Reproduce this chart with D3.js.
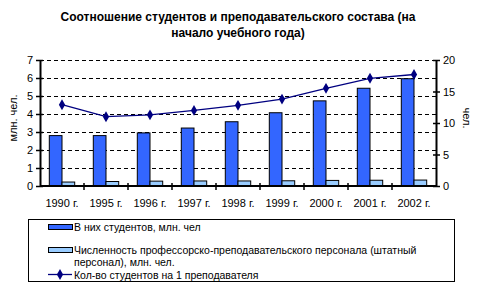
<!DOCTYPE html>
<html>
<head>
<meta charset="utf-8">
<script src="https://cdn.jsdelivr.net/npm/d3@7"></script>
<style>
  body { margin: 0; background: #fff; }
  svg { font-family: Arial, "Liberation Sans", sans-serif; }
  .tick text { font-size: 11px; }
  .leg { font-size: 10.5px; }
</style>
</head>
<body>
<div id="ChartContainer"></div>
<script>
var years = ["1990 г.", "1995 г.", "1996 г.", "1997 г.", "1998 г.", "1999 г.", "2000 г.", "2001 г.", "2002 г."]
var students = [2.8, 2.8, 2.95, 3.22, 3.57, 4.07, 4.73, 5.43, 5.96]
var staff = [0.22, 0.25, 0.27, 0.28, 0.28, 0.29, 0.31, 0.32, 0.33]
var ratio = [12.9, 11.0, 11.3, 12.0, 12.8, 13.8, 15.5, 17.1, 17.7]
var leftTicks = [0, 1, 2, 3, 4, 5, 6, 7]
var rightTicks = [0, 5, 10, 15, 20]

var fullWidth = 480
var fullHeight = 288
var margin = { top: 60, left: 40, right: 44, bottom: 102 }
var width = fullWidth - margin.left - margin.right
var height = fullHeight - margin.top - margin.bottom

var svg = d3.select("#ChartContainer").append("svg")
  .attr("width", fullWidth)
  .attr("height", fullHeight)

// Chart title
svg.append("text")
  .attr("x", 238).attr("y", 21)
  .attr("text-anchor", "middle")
  .style("font-size", "12px").style("font-weight", "bold")
  .text("Соотношение студентов и преподавательского состава (на")
svg.append("text")
  .attr("x", 238).attr("y", 37)
  .attr("text-anchor", "middle")
  .style("font-size", "12px").style("font-weight", "bold")
  .text("начало учебного года)")

var x = d3.scaleBand().domain(years).range([0, width])
var y = d3.scaleLinear().domain([0, 7]).range([height, 0])
var y2 = d3.scaleLinear().domain([0, 20]).range([height, 0])

var g = svg.append("g")
  .attr("transform", `translate(${margin.left},${margin.top})`)

// gridlines
g.selectAll(".grid")
  .data(leftTicks.filter(d => d > 0))
  .enter().append("line")
  .attr("x1", 0).attr("x2", width)
  .attr("y1", d => y(d)).attr("y2", d => y(d))
  .attr("stroke", "#000")
  .attr("stroke-dasharray", "4,3")
  .attr("shape-rendering", "crispEdges")

var barW = 12.7

g.selectAll(".Bar")
  .data(students)
  .enter().append("rect")
  .attr("x", (d, i) => x(years[i]) + x.bandwidth() / 2 - barW)
  .attr("y", d => y(d))
  .attr("width", barW)
  .attr("height", d => height - y(d))
  .attr("fill", "#3366ff")
  .attr("stroke", "#000")

g.selectAll(".Bar2")
  .data(staff)
  .enter().append("rect")
  .attr("x", (d, i) => x(years[i]) + x.bandwidth() / 2)
  .attr("y", d => y(d))
  .attr("width", barW)
  .attr("height", d => height - y(d))
  .attr("fill", "#99ccff")
  .attr("stroke", "#000")

// line
var line = d3.line()
  .x((d, i) => x(years[i]) + x.bandwidth() / 2)
  .y(d => y2(d))
g.append("path")
  .datum(ratio)
  .attr("d", line)
  .attr("fill", "none")
  .attr("stroke", "#000080")
  .attr("stroke-width", 1.3)

var diamond = d3.symbol().type(d3.symbolDiamond).size(34)
g.selectAll(".pt")
  .data(ratio)
  .enter().append("path")
  .attr("d", diamond)
  .attr("transform", (d, i) => `translate(${x(years[i]) + x.bandwidth() / 2},${y2(d)})`)
  .attr("fill", "#000080")

// axes
function styleAxis(sel) {
  sel.select(".domain").attr("stroke-width", 2)
  sel.selectAll(".tick line").attr("stroke-width", 1.5)
}

var leftAxis = g.append("g")
  .call(d3.axisLeft(y).tickValues(leftTicks).tickFormat(d3.format("d"))
    .tickSize(4).tickSizeOuter(0).tickPadding(3))
leftAxis.call(styleAxis)
leftAxis.selectAll(".tick line").attr("x1", 3)

var rightAxis = g.append("g")
  .attr("transform", `translate(${width},0)`)
  .call(d3.axisRight(y2).tickValues(rightTicks).tickFormat(d3.format("d"))
    .tickSize(4).tickSizeOuter(0).tickPadding(3))
rightAxis.call(styleAxis)
rightAxis.selectAll(".tick line").attr("x1", -3)

var xAxis = g.append("g")
  .attr("transform", `translate(0,${height})`)
  .call(d3.axisBottom(x).tickSize(0).tickSizeOuter(0).tickPadding(13))
xAxis.call(styleAxis)
xAxis.select(".domain").attr("d", `M0,0H${width}`)
xAxis.selectAll(".bnd")
  .data(years.slice(1))
  .enter().append("line")
  .attr("x1", d => x(d)).attr("x2", d => x(d))
  .attr("y1", -3).attr("y2", 4)
  .attr("stroke", "#000").attr("stroke-width", 1.5)

svg.selectAll(".tick text").attr("fill", "#000")

// axis titles
svg.append("text")
  .attr("transform", "translate(17,118) rotate(-90)")
  .attr("text-anchor", "middle")
  .style("font-size", "11px")
  .text("млн. чел.")
svg.append("text")
  .attr("transform", "translate(463,118) rotate(90)")
  .attr("text-anchor", "middle")
  .style("font-size", "11px")
  .text("чел.")

// legend
var legend = svg.append("g")
svg.append("rect")
  .attr("x", 28.5).attr("y", 219.5)
  .attr("width", 426).attr("height", 62)
  .attr("fill", "none").attr("stroke", "#000")

legend.append("rect")
  .attr("x", 48.5).attr("y", 224.5).attr("width", 24).attr("height", 5)
  .attr("fill", "#3366ff").attr("stroke", "#000")
legend.append("text").attr("class", "leg")
  .attr("x", 74).attr("y", 231)
  .text("В них студентов, млн. чел")

legend.append("rect")
  .attr("x", 48.5).attr("y", 247.5).attr("width", 24).attr("height", 5)
  .attr("fill", "#99ccff").attr("stroke", "#000")
legend.append("text").attr("class", "leg")
  .attr("x", 74).attr("y", 254)
  .text("Численность профессорско-преподавательского персонала (штатный")
legend.append("text").attr("class", "leg")
  .attr("x", 74).attr("y", 266)
  .text("персонал), млн. чел.")

legend.append("line")
  .attr("x1", 48).attr("x2", 72).attr("y1", 274.5).attr("y2", 274.5)
  .attr("stroke", "#000080").attr("stroke-width", 1.3)
legend.append("path")
  .attr("d", diamond)
  .attr("transform", "translate(60,274.5)")
  .attr("fill", "#000080")
legend.append("text").attr("class", "leg")
  .attr("x", 74).attr("y", 278.5)
  .text("Кол-во студентов на 1 преподавателя")
</script>
</body>
</html>
